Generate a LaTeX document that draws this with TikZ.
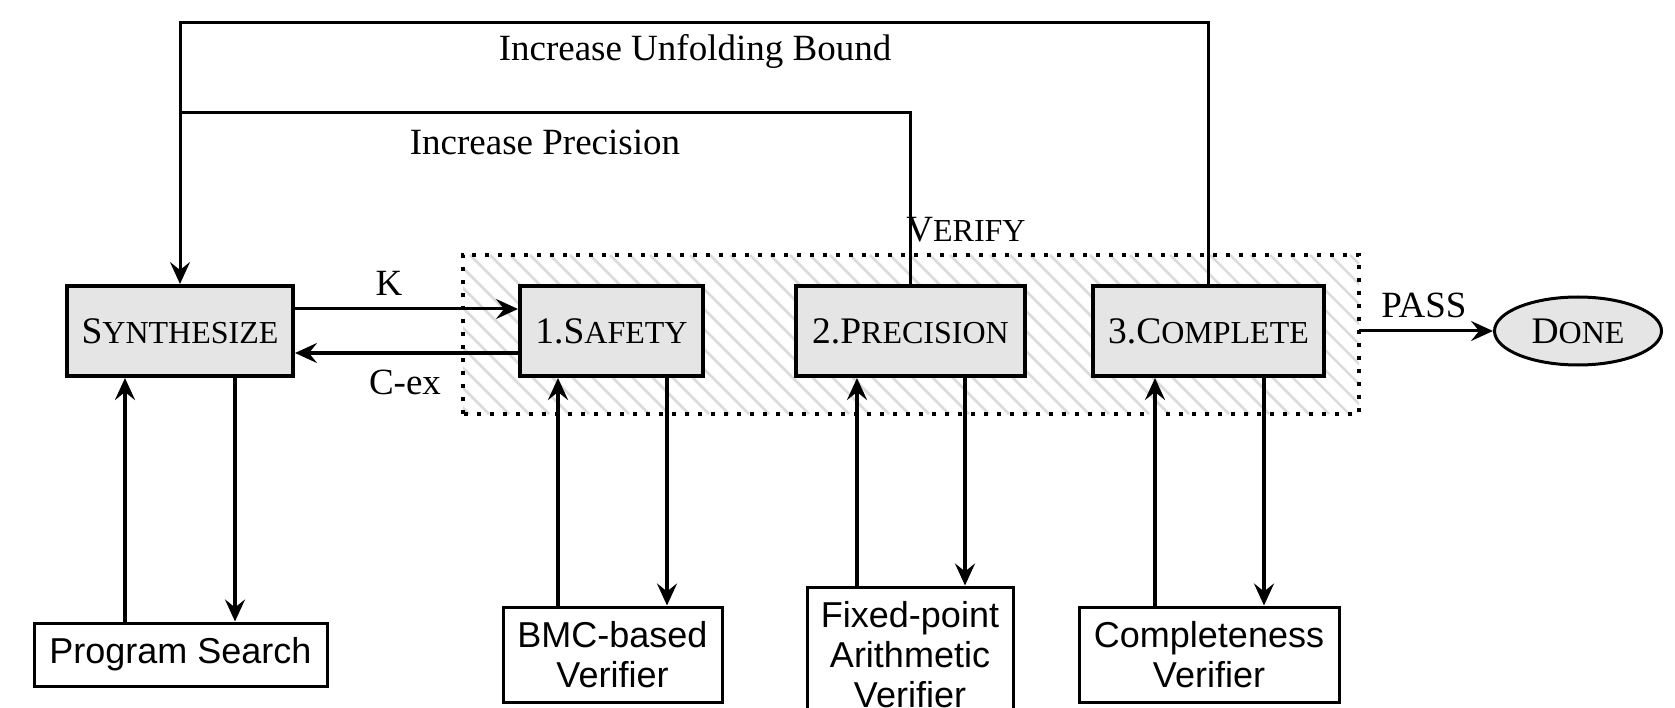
\documentclass[tikz,border=0pt]{standalone}
\usepackage{fontspec}
\setmainfont{Liberation Serif}
\newfontfamily\hvfont{Liberation Sans}
\usetikzlibrary{arrows.meta,shapes.geometric}
\newcommand{\fsc}[2]{#1{\fontsize{32}{36}\selectfont #2}}
\tikzset{
  mainbox/.style={draw, line width=4pt, fill=gray!20, minimum height=90pt, inner sep=0pt, font=\fontsize{37.5}{40}\selectfont},
  verbox/.style={draw, line width=3pt, fill=white, inner sep=0pt, align=center, font=\hvfont\fontsize{36}{40}\selectfont},
  tip/.style={-{Stealth[length=22pt,width=20pt,inset=8pt]}},
  conn/.style={line width=3pt, tip},
  upconn/.style={line width=4.5pt, tip},
  downconn/.style={line width=3.3pt, tip},
  fb/.style={line width=3pt},
  hatch/.style={line width=2.5pt, gray!28},
  dotborder/.style={line width=4pt, dash pattern=on 4pt off 9pt},
  lbl/.style={font=\fontsize{37}{40}\selectfont, inner sep=0pt},
}
\begin{document}
\begin{tikzpicture}[x=1pt,y=-1pt]
\useasboundingbox (0,0) rectangle (1675,708);
% verify region
\node[minimum width=896pt, minimum height=159pt, inner sep=0pt] (ver) at (911,334.5) {};
\begin{scope}
  \clip (ver.south west) rectangle (ver.north east);
  \foreach \x in {290,310,...,1370}
    \draw[hatch] (\x,255) -- (\x+159,414);
\end{scope}
\draw[dotborder] (ver.south west) rectangle (ver.north east);
\node[lbl] (vl) at (966,230) {\fsc{V}{ERIFY}};
% main boxes
\node[mainbox, minimum width=226pt] (syn) at (180,331) {\fsc{S}{YNTHESIZE}};
\node[mainbox, minimum width=183pt] (saf) at (611.5,331) {1.\fsc{S}{AFETY}};
\node[mainbox, minimum width=229pt] (pre) at (910.5,331) {2.\fsc{P}{RECISION}};
\node[mainbox, minimum width=231pt] (com) at (1208.5,331) {3.\fsc{C}{OMPLETE}};
\node[ellipse, draw, line width=3pt, fill=gray!20, minimum width=167pt, minimum height=68pt, inner sep=0pt,
      font=\fontsize{37.5}{40}\selectfont] (done) at (1578,331) {\fsc{D}{ONE}};
% verifiers
\node[verbox, minimum width=293pt, minimum height=63pt] (ps) at (180.5,654.5) {Program Search};
\node[verbox, minimum width=219pt, minimum height=95pt] (bmc) at (612.5,654.5) {BMC-based\\Verifier};
\node[verbox, minimum width=206pt, minimum height=135pt] (fpa) at (910,654.5) {Fixed-point\\Arithmetic\\Verifier};
\node[verbox, minimum width=260pt, minimum height=95pt] (cv) at (1209,654.5) {Completeness\\Verifier};
% feedback loops
\coordinate (topy) at (0,23);
\coordinate (midy) at (0,113);
\draw[fb, tip] (com.north) |- (topy -| syn.north) -- (syn.north);
\draw[fb] (pre.north) |- (midy -| syn.north);
\node[lbl] (iub) at (695,51) {Increase Unfolding Bound};
\node[lbl] (ip) at (545,142) {Increase Precision};
% K / C-ex
\draw[conn] ([yshift=22pt]syn.east) -- ([yshift=22pt]saf.west);
\draw[conn] ([yshift=-22pt]saf.west) -- ([yshift=-22pt]syn.east);
\node[lbl] (kl) at (389,283) {K};
\node[lbl] (cl) at (405,382) {C-ex};
% PASS
\draw[conn] (ver.east |- done.west) -- (done.west);
\node[lbl] (pl) at (1424,305) {PASS};
% verifier links
\draw[upconn] ([xshift=-55pt]syn.south |- ps.north) -- ([xshift=-55pt]syn.south);
\draw[downconn] ([xshift=55pt]syn.south) -- ([xshift=55pt]syn.south |- ps.north);
\draw[upconn] ([xshift=-53.5pt]saf.south |- bmc.north) -- ([xshift=-53.5pt]saf.south);
\draw[downconn] ([xshift=55.5pt]saf.south) -- ([xshift=55.5pt]saf.south |- bmc.north);
\draw[upconn] ([xshift=-53.5pt]pre.south |- fpa.north) -- ([xshift=-53.5pt]pre.south);
\draw[downconn] ([xshift=54.5pt]pre.south) -- ([xshift=54.5pt]pre.south |- fpa.north);
\draw[upconn] ([xshift=-53.5pt]com.south |- cv.north) -- ([xshift=-53.5pt]com.south);
\draw[downconn] ([xshift=55.5pt]com.south) -- ([xshift=55.5pt]com.south |- cv.north);
\end{tikzpicture}
\end{document}
